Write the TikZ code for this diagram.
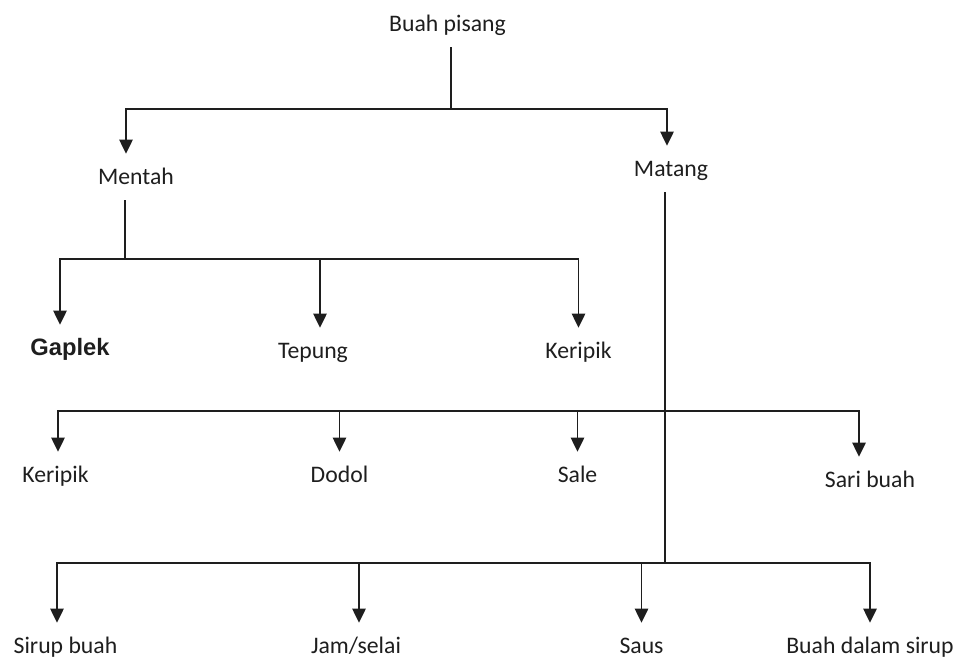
\documentclass[tikz,border=0pt]{standalone}
\usepackage{fontspec}
\setmainfont{Carlito}
\newfontfamily\arialfont{Liberation Sans}
\usetikzlibrary{arrows.meta}
\definecolor{inkgrey}{RGB}{30,30,30}

\begin{document}
\begin{tikzpicture}[
    x=0.02cm, y=-0.02cm,
    lbl/.style={inner sep=0pt, anchor=base, text height=10pt, text depth=3pt,
        font=\fontsize{13.5}{16}\selectfont, text=inkgrey},
    stem/.style={line width=1.1pt, draw=inkgrey, shorten <=6pt},
    arrow/.style={line width=1.1pt, draw=inkgrey,
        -{Triangle[length=8pt, width=7.5pt]}, shorten >=7pt}
]
\useasboundingbox (0,0) rectangle (959,657);

% labels
\node[lbl] (pisang)   at (447.5,31)  {Buah pisang};
\node[lbl] (mentah)   at (136,184)   {Mentah};
\node[lbl] (matang)   at (671,176)   {Matang};
\node[lbl, font=\arialfont\bfseries\fontsize{13.5}{16}\selectfont] (gaplek) at (70,355) {Gaplek};
\node[lbl] (tepung)   at (313,358)   {Tepung};
\node[lbl] (keripikA) at (578.5,358) {Keripik};
\node[lbl] (keripikB) at (55.5,482)  {Keripik};
\node[lbl] (dodol)    at (339.5,482) {Dodol};
\node[lbl] (sale)     at (577.5,482) {Sale};
\node[lbl] (sari)     at (870,487)   {Sari buah};
\node[lbl] (sirup)    at (65.5,653)  {Sirup buah};
\node[lbl] (jam)      at (356,653)   {Jam/selai};
\node[lbl] (saus)     at (641.5,653) {Saus};
\node[lbl] (dalam)    at (870,653)   {Buah dalam sirup};

% branch points
\coordinate (j1) at (451,109);
\coordinate (j2) at (125,259);
\coordinate (j3) at (665,411);
\coordinate (j4) at (665,563);

\draw[stem] (j1 |- pisang.south) -- (j1);
\draw[stem] (j2 |- mentah.south) -- (j2);
\draw[stem] (j4 |- matang.south) -- (j4);

\draw[arrow] (j1) -| ([xshift=-0.2cm]mentah.north);
\draw[arrow] (j1) -| ([xshift=-0.08cm]matang.north);

\draw[arrow] (j2) -| ([xshift=-0.2cm]gaplek.north);
\draw[arrow] (j2) -| ([xshift=0.14cm]tepung.north);
\draw[arrow] (j2) -| (keripikA.north);

\draw[arrow] (j3) -| ([xshift=0.05cm]keripikB.north);
\draw[arrow] (j3) -| (dodol.north);
\draw[arrow] (j3) -| (sale.north);
\draw[arrow] (j3) -| ([xshift=-0.22cm]sari.north);

\draw[arrow] (j4) -| ([xshift=-0.17cm]sirup.north);
\draw[arrow] (j4) -| ([xshift=0.06cm]jam.north);
\draw[arrow] (j4) -| (saus.north);
\draw[arrow] (j4) -| (dalam.north);
\end{tikzpicture}
\end{document}
